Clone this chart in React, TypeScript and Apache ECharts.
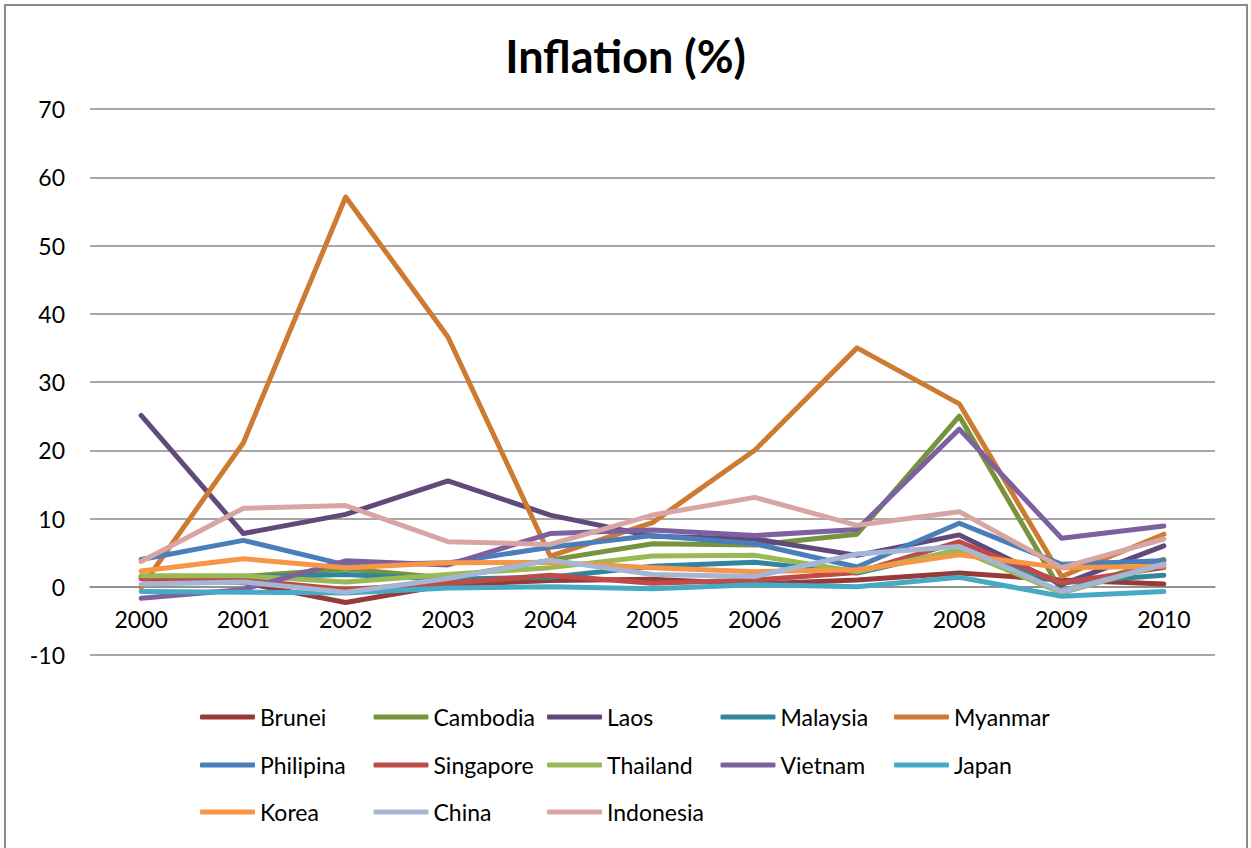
import React, { useEffect, useRef } from "react";
import * as echarts from "echarts";

const years = ["2000", "2001", "2002", "2003", "2004", "2005", "2006", "2007", "2008", "2009", "2010"];

const brunei = [1.2, 0.6, -2.3, 0.3, 0.9, 1.1, 0.4, 1.0, 2.0, 1.0, 0.4];
const cambodia = [1.4, 1.5, 2.6, 1.3, 3.9, 6.3, 6.1, 7.7, 25.0, -0.7, 4.0];
const laos = [25.1, 7.8, 10.6, 15.5, 10.5, 7.4, 7.0, 4.6, 7.6, 0.3, 6.0];
const malaysia = [1.5, 1.4, 1.8, 1.1, 1.4, 3.0, 3.6, 2.0, 5.4, 0.6, 1.7];
const myanmar = [-0.1, 21.1, 57.1, 36.6, 4.5, 9.4, 20.0, 35.0, 26.8, 1.5, 7.7];
const philipina = [4.0, 6.8, 3.2, 3.5, 5.8, 7.5, 6.3, 2.9, 9.3, 3.3, 3.8];
const singapore = [1.3, 1.0, -0.4, 0.5, 1.7, 0.5, 1.0, 2.1, 6.6, 0.6, 2.8];
const thailand = [1.6, 1.6, 0.7, 1.8, 2.8, 4.5, 4.6, 2.2, 5.4, -0.9, 3.3];
const vietnam = [-1.7, -0.4, 3.8, 3.2, 7.8, 8.3, 7.5, 8.4, 23.1, 7.1, 8.9];
const japan = [-0.7, -0.8, -0.9, -0.2, 0.0, -0.3, 0.3, 0.0, 1.4, -1.4, -0.7];
const korea = [2.3, 4.1, 2.8, 3.5, 3.6, 2.8, 2.2, 2.5, 4.7, 2.8, 3.0];
const china = [0.4, 0.7, -0.8, 1.2, 3.9, 1.8, 1.5, 4.8, 5.9, -0.7, 3.3];
const indonesia = [3.7, 11.5, 11.9, 6.6, 6.2, 10.5, 13.1, 9.0, 11.0, 2.8, 7.0];

const seriesNames = [
  "Brunei", "Cambodia", "Laos", "Malaysia", "Myanmar",
  "Philipina", "Singapore", "Thailand", "Vietnam", "Japan",
  "Korea", "China", "Indonesia",
];
const seriesData = [
  brunei, cambodia, laos, malaysia, myanmar,
  philipina, singapore, thailand, vietnam, japan,
  korea, china, indonesia,
];
const seriesColors = [
  "#973A38", "#77933C", "#604A7B", "#31859C", "#CD7B32",
  "#4A7EBB", "#BE4B48", "#98B954", "#7D60A0", "#46AAC5",
  "#F79646", "#A5B6D5", "#D9A5A4",
];

const legendRows = [
  seriesNames.slice(0, 5),
  seriesNames.slice(5, 10),
  seriesNames.slice(10, 13),
];
const legendRowCenters = [717, 765, 812];

const FONT = "Lato, 'Open Sans', sans-serif";

export default function App() {
  const ref = useRef<HTMLDivElement>(null);

  useEffect(() => {
    if (!ref.current) return;
    const chart = echarts.init(ref.current, undefined, { renderer: "svg" });

    const option: any = {
      animation: false,
      backgroundColor: "#ffffff",
      title: {
        text: "Inflation (%)",
        left: "center",
        top: 28,
        textStyle: { fontFamily: FONT, fontSize: 45, fontWeight: "bold", color: "#000" },
      },
      graphic: [
        {
          type: "rect",
          shape: { x: 5, y: 5, width: 1242, height: 900 },
          style: { fill: "none", stroke: "#8a8a8a", lineWidth: 2 },
          silent: true,
        },
      ],
      grid: { left: 90, right: 36, top: 109, bottom: 193, containLabel: false },
      xAxis: {
        type: "category",
        data: years,
        boundaryGap: true,
        position: "bottom",
        offset: -68.25,
        axisLine: { show: true, onZero: false, lineStyle: { color: "#8a8a8a", width: 1.5 } },
        axisTick: { show: false },
        axisLabel: { fontFamily: FONT, fontSize: 23, color: "#000", margin: 21 },
        splitLine: { show: false },
      },
      yAxis: {
        type: "value",
        min: -10,
        max: 70,
        interval: 10,
        axisLine: { show: false },
        axisTick: { show: false },
        axisLabel: { fontFamily: FONT, fontSize: 23, color: "#000", margin: 25 },
        splitLine: { show: true, lineStyle: { color: "#8a8a8a", width: 1.5 } },
      },
      legend: legendRows.map((row, i) => ({
        data: row,
        orient: "horizontal",
        left: 200,
        top: legendRowCenters[i] - 13,
        padding: 0,
        itemGap: 5.5,
        itemWidth: 55,
        itemHeight: 5,
        icon: "roundRect",
        textStyle: { fontFamily: FONT, fontSize: 23, color: "#000", width: 108, lineHeight: 26 },
      })),
      series: seriesNames.map((name, i) => ({
        name,
        type: "line",
        data: seriesData[i],
        symbol: "none",
        color: seriesColors[i],
        lineStyle: { width: 5, color: seriesColors[i], cap: "round", join: "round" },
      })),
    };

    chart.setOption(option);
    return () => {
      chart.dispose();
    };
  }, []);

  return (
    <div
      ref={ref}
      style={{ position: "fixed", left: 0, top: 0, width: 1251, height: 848 }}
    />
  );
}
